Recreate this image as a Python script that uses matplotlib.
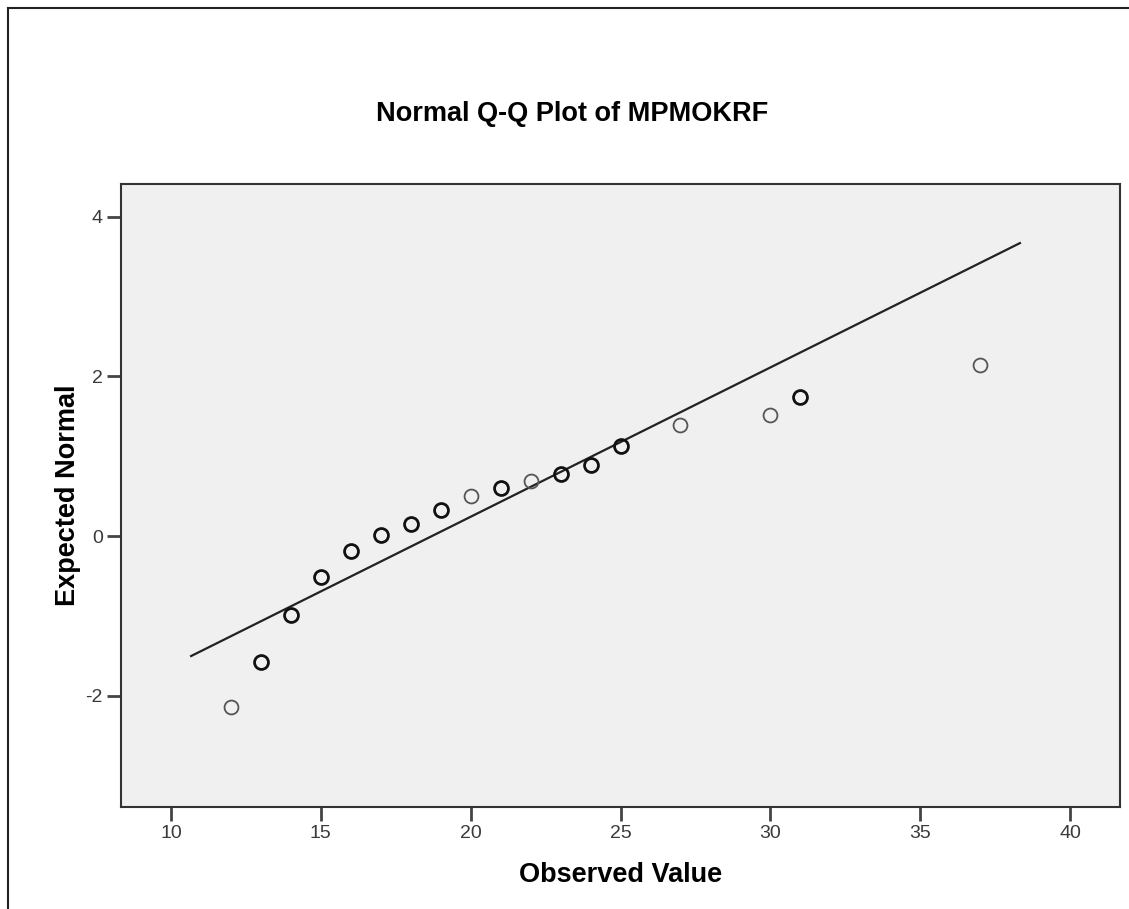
import matplotlib
matplotlib.use("Agg")
import matplotlib.pyplot as plt
from matplotlib.lines import Line2D
from matplotlib.ticker import FuncFormatter

plt.rcParams['font.family'] = ['Liberation Sans', 'DejaVu Sans']

# observed values and their expected normal scores
observed = [12, 13, 14, 15, 16, 17, 18, 19, 20, 21, 22, 23, 24, 25, 27,
            30, 31, 37]
expected = [-2.14, -1.58, -0.98, -0.51, -0.19, 0.02, 0.15, 0.33, 0.50,
            0.60, 0.69, 0.78, 0.89, 1.13, 1.39, 1.52, 1.74, 2.14]
# values seen more than once are drawn with a heavier ring
repeated = [False, True, True, True, True, True, True, True, False,
            True, False, True, True, True, False, False, True, False]

# reference line (expected normal of a N(mean, sd) fit)
line_x = [10.67, 38.33]
line_y = [-1.50, 3.67]

x_ticks = [10, 15, 20, 25, 30, 35, 40]
y_ticks = [-2, 0, 2, 4]

fig = plt.figure(figsize=(11.29, 9.09), dpi=100)
ax = fig.add_axes([121 / 1129, 1 - 807 / 909, 999 / 1129, 623 / 909])
ax.set_facecolor("#f0f0f0")

ax.plot(line_x, line_y, color="#222222", linewidth=1.6, zorder=2)

for x, y, rep in zip(observed, expected, repeated):
    if rep:
        ax.plot(x, y, marker="o", markersize=10, markerfacecolor="none",
                markeredgecolor="#111111", markeredgewidth=2.0, zorder=3)
    else:
        ax.plot(x, y, marker="o", markersize=10, markerfacecolor="none",
                markeredgecolor="#555555", markeredgewidth=1.3, zorder=3)

ax.set_xlim(8.33, 41.67)
ax.set_ylim(-3.39, 4.41)
ax.set_xticks(x_ticks)
ax.set_yticks(y_ticks)
# plain hyphen for negative numbers
ax.yaxis.set_major_formatter(FuncFormatter(lambda v, pos: f"{v:g}"))
ax.tick_params(direction="out", length=10, width=2, color="#444444",
               labelsize=14, labelcolor="#3a3a3a", pad=3)
for side in ax.spines.values():
    side.set_color("#333333")
    side.set_linewidth(1.5)

ax.set_xlabel("Observed Value", fontsize=19.5, fontweight="bold")
ax.set_ylabel("Expected Normal", fontsize=19.5, fontweight="bold")
ax.xaxis.set_label_coords(0.5, (807 - 875) / 623)
ax.yaxis.set_label_coords((68 - 121) / 999, 0.5)
ax.xaxis.label.set_va("center")
ax.yaxis.label.set_va("center")
fig.text(572 / 1129, 1 - 114 / 909,
         "Normal Q-Q Plot of MPMOKRF", ha="center", va="center",
         fontsize=19.5, fontweight="bold")

# outer frame around the chart
fig.add_artist(Line2D([8 / 1129, 8 / 1129], [0, 1 - 8 / 909],
                      transform=fig.transFigure, color="#222222",
                      linewidth=1.5))
fig.add_artist(Line2D([8 / 1129, 1], [1 - 8 / 909, 1 - 8 / 909],
                      transform=fig.transFigure, color="#222222",
                      linewidth=1.5))

fig.savefig("out.png", dpi=100)
